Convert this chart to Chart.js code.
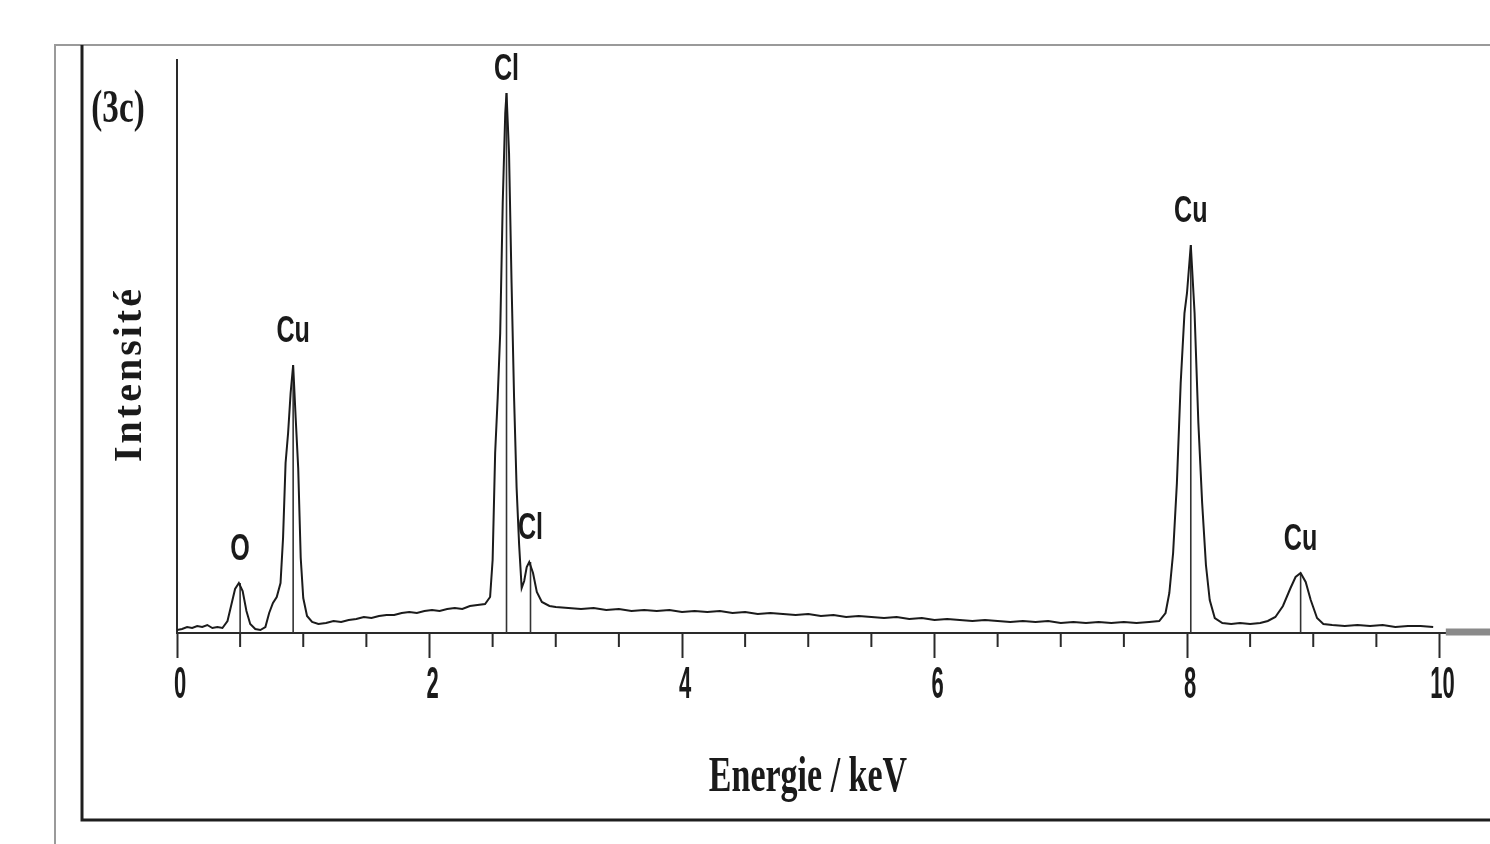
<!DOCTYPE html>
<html>
<head>
<meta charset="utf-8">
<title>EDS 3c</title>
<script src="https://cdn.jsdelivr.net/npm/chart.js@4.4.0/dist/chart.umd.min.js"></script>
<style>
  html, body { margin: 0; padding: 0; background: #fff; }
  #wrap { position: relative; width: 1490px; height: 844px; }
</style>
</head>
<body>
<div id="wrap"><canvas id="eds"></canvas></div>
<script>
// spectrum (energy in keV, intensity in arbitrary units)
var energy = [
  0.00, 0.04, 0.08, 0.12, 0.16, 0.20, 0.24, 0.28, 0.32, 0.36,
  0.40, 0.43, 0.46, 0.49, 0.52, 0.55, 0.58, 0.62, 0.66, 0.70,
  0.73, 0.76, 0.79, 0.82, 0.84, 0.86, 0.88, 0.90, 0.92, 0.94,
  0.96, 0.98, 1.00, 1.03, 1.07, 1.12, 1.18, 1.24, 1.30, 1.36,
  1.42, 1.48, 1.54, 1.60, 1.66, 1.72, 1.78, 1.84, 1.90, 1.96,
  2.02, 2.08, 2.14, 2.20, 2.26, 2.32, 2.38, 2.44, 2.48, 2.50,
  2.52, 2.54, 2.56, 2.58, 2.60, 2.61, 2.63, 2.65, 2.67, 2.69,
  2.71, 2.73, 2.75, 2.77, 2.79, 2.82, 2.85, 2.89, 2.95, 3.00,
  3.10, 3.20, 3.30, 3.40, 3.50, 3.60, 3.70, 3.80, 3.90, 4.00,
  4.10, 4.20, 4.30, 4.40, 4.50, 4.60, 4.70, 4.80, 4.90, 5.00,
  5.10, 5.20, 5.30, 5.40, 5.50, 5.60, 5.70, 5.80, 5.90, 6.00,
  6.10, 6.20, 6.30, 6.40, 6.50, 6.60, 6.70, 6.80, 6.90, 7.00,
  7.10, 7.20, 7.30, 7.40, 7.50, 7.60, 7.70, 7.78, 7.83, 7.86,
  7.89, 7.92, 7.95, 7.98, 8.00, 8.03, 8.06, 8.09, 8.12, 8.15,
  8.18, 8.22, 8.28, 8.35, 8.42, 8.50, 8.58, 8.64, 8.70, 8.76,
  8.82, 8.86, 8.90, 8.94, 8.98, 9.03, 9.08, 9.15, 9.25, 9.35,
  9.45, 9.55, 9.65, 9.75, 9.85, 9.95
];
var counts = [
  3, 4, 6, 5, 7, 6, 8, 5, 6, 5,
  12, 28, 44, 50, 42, 22, 9, 4, 3, 6,
  20, 30, 36, 50, 95, 170, 200, 240, 268, 215,
  165, 75, 35, 17, 11, 9, 10, 12, 11, 13,
  14, 16, 15, 17, 18, 18, 20, 21, 20, 22,
  23, 22, 24, 25, 24, 27, 28, 29, 36, 73,
  180, 235, 300, 430, 520, 540, 480, 350, 235, 145,
  88, 45, 52, 66, 71, 60, 41, 31, 27, 26,
  25, 24, 25, 23, 24, 22, 23, 22, 23, 21,
  22, 21, 22, 20, 21, 19, 20, 19, 18, 19,
  17, 18, 16, 17, 16, 15, 16, 14, 15, 13,
  14, 13, 12, 13, 12, 11, 12, 11, 12, 10,
  11, 10, 11, 10, 11, 10, 11, 12, 20, 40,
  80, 150, 250, 320, 340, 388, 320, 210, 130, 68,
  33, 15, 10, 9, 10, 9, 10, 12, 16, 27,
  45, 56, 60, 51, 33, 15, 9, 8, 7, 8,
  7, 8, 6, 7, 7, 6
];

var peakNames = ["O", "Cu", "Cl", "Cl", "Cu", "Cu"];
var peakEnergy = [0.50, 0.92, 2.61, 2.80, 8.03, 8.90];
var peakCounts = [50, 268, 540, 71, 388, 60];

var majorTicks = [0, 2, 4, 6, 8, 10];
var panelLabel = "(3c)";
var xTitle = "Energie / keV";
var yTitle = "Intensité";

var spectrum = energy.map(function (e, i) { return { x: e, y: counts[i] }; });

var datasets = [{
  label: "spectre",
  data: spectrum,
  borderColor: "#1b1b1b",
  borderWidth: 2,
  pointRadius: 0,
  tension: 0
}];
// thin line from the axis up to each labelled peak
peakEnergy.forEach(function (e, i) {
  datasets.push({
    label: peakNames[i],
    data: [{ x: e, y: 0 }, { x: e, y: peakCounts[i] }],
    borderColor: "#333",
    borderWidth: 1.6,
    pointRadius: 0
  });
});

function condensedText(c, txt, x, y, font, sx) {
  c.save();
  c.translate(x, y);
  c.scale(sx, 1);
  c.font = font;
  c.textAlign = "center";
  c.textBaseline = "middle";
  c.fillText(txt, 0, 0);
  c.restore();
}

var decor = {
  id: "decor",
  beforeDraw: function (chart) {
    var c = chart.ctx;
    c.save();
    c.fillStyle = "#fff";
    c.fillRect(0, 0, chart.width, chart.height);
    // outer page frame
    c.strokeStyle = "#9a9a9a";
    c.lineWidth = 2;
    c.beginPath();
    c.moveTo(55, 844); c.lineTo(55, 45); c.lineTo(1490, 45);
    c.stroke();
    // figure box
    c.strokeStyle = "#1e1e1e";
    c.lineWidth = 3;
    c.beginPath();
    c.moveTo(82, 45); c.lineTo(82, 820); c.lineTo(1490, 820);
    c.stroke();
    c.restore();
  },
  afterDraw: function (chart) {
    var c = chart.ctx, xs = chart.scales.x, ys = chart.scales.y;
    var y0 = ys.getPixelForValue(0);
    c.save();
    // minor ticks every 0.5 keV
    c.strokeStyle = "#2a2a2a";
    c.lineWidth = 2;
    for (var k = 1; k <= 20; k++) {
      var v = k * 0.5;
      if (v % 2 === 0) continue;
      var px = xs.getPixelForValue(v);
      c.beginPath(); c.moveTo(px, y0); c.lineTo(px, y0 + 14); c.stroke();
    }
    // heavy grey end of the axis line
    c.strokeStyle = "#8a8a8a";
    c.lineWidth = 7;
    c.beginPath();
    c.moveTo(xs.getPixelForValue(10.05), y0 - 1); c.lineTo(chart.width, y0 - 1);
    c.stroke();

    c.fillStyle = "#1a1a1a";
    // peak labels
    peakNames.forEach(function (n, i) {
      var px = xs.getPixelForValue(peakEnergy[i]);
      var py = Math.max(ys.getPixelForValue(peakCounts[i]) - 33, 70);
      condensedText(c, n, px, py, 'bold 37px "Liberation Sans", Arial, sans-serif', 0.68);
    });
    // tick labels
    majorTicks.forEach(function (v) {
      condensedText(c, String(v), xs.getPixelForValue(v) + 3, 686,
        'bold 44px "Liberation Sans", Arial, sans-serif', 0.5);
    });
    // titles
    condensedText(c, xTitle, 808, 778, 'bold 50px "Liberation Serif", "Times New Roman", serif', 0.68);
    condensedText(c, panelLabel, 118, 110, 'bold 46px "Liberation Serif", "Times New Roman", serif', 0.72);
    c.save();
    c.translate(131, 374);
    c.rotate(-Math.PI / 2);
    c.font = 'bold 40px "Liberation Serif", "Times New Roman", serif';
    c.letterSpacing = "3px";
    c.textAlign = "center";
    c.textBaseline = "middle";
    c.fillText(yTitle, 0, 0);
    c.restore();
    c.restore();
  }
};

var ctx = document.getElementById("eds").getContext("2d");
var edsChart = new Chart(ctx, {
  type: "line",
  data: { datasets: datasets },
  options: {
    responsive: true,
    maintainAspectRatio: false,
    animation: false,
    layout: { padding: { left: 177, top: 60, right: 0, bottom: 0 } },
    plugins: { legend: { display: false }, tooltip: { enabled: false } },
    scales: {
      x: {
        type: "linear",
        min: 0,
        max: 10.4,
        afterFit: function (s) { s.height = 211; },
        border: { display: true, color: "#2a2a2a", width: 2 },
        grid: {
          drawOnChartArea: false,
          drawTicks: true,
          tickLength: 25,
          tickWidth: 2,
          tickColor: function (t) {
            return t.tick && t.tick.value % 2 === 0 ? "#2a2a2a" : "rgba(0,0,0,0)";
          }
        },
        ticks: {
          stepSize: 0.5,
          includeBounds: false,
          callback: function () { return ""; }
        }
      },
      y: {
        min: 0,
        max: 573,
        afterFit: function (s) { s.width = 0; },
        border: { display: true, color: "#2a2a2a", width: 2 },
        grid: { display: false },
        ticks: { display: false }
      }
    }
  },
  plugins: [decor]
});
</script>
</body>
</html>
